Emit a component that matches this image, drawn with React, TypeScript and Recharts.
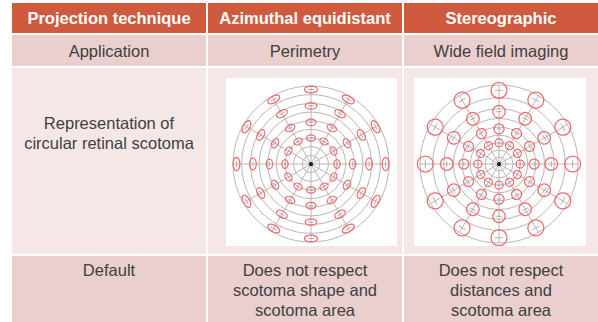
import {
  PolarAngleAxis,
  PolarGrid,
  PolarRadiusAxis,
  Radar,
  RadarChart,
} from "recharts";

// meridians every 30°, scotomas on four eccentricity rings, grid every 10°
const meridians = ["0°", "30°", "60°", "90°", "120°", "150°", "180°", "210°", "240°", "270°", "300°", "330°"];
const scotomaEccentricities = [30, 48, 67, 86];
const gridEccentricities = [10, 20, 30, 40, 50, 60, 70, 80, 90];
const foveaEccentricity = 0;

const headers = ["Projection technique", "Azimuthal equidistant", "Stereographic"];
const applicationRow = ["Application", "Perimetry", "Wide field imaging"];
const representationLabel = ["Representation of", "circular retinal scotoma"];
const defaultRow = [
  ["Default"],
  ["Does not respect", "scotoma shape and", "scotoma area"],
  ["Does not respect", "distances and", "scotoma area"],
];

// drawn scotoma size per ring: [radial, tangential] half-axes in px
const azimuthalShape = [
  [3.1, 4.4],
  [3.2, 5.0],
  [3.3, 5.8],
  [3.4, 6.6],
];
const stereoShape = [
  [4, 4],
  [5, 5],
  [6.3, 6.3],
  [8, 8],
];

const equidistant = (deg: number) => deg;
const stereographic = (deg: number) => Math.tan((deg * Math.PI) / 360);

const PANEL_W = 171;
const PANEL_H = 168;
const CX = 85;
const CY = 86;

const RED = "#f26a6a";
const GRID = "#b6b6b6";

function Scotoma({ cx, cy, rx, ry }: { cx: number; cy: number; rx: number; ry: number }) {
  const angle = (Math.atan2(-(cy - CY), cx - CX) * 180) / Math.PI;
  return (
    <g transform={`rotate(${-angle} ${cx} ${cy})`}>
      <line
        x1={cx}
        y1={cy - ry * 0.5}
        x2={cx}
        y2={cy + ry * 0.5}
        stroke="#a0a0a0"
        strokeWidth={0.8}
      />
      <ellipse cx={cx} cy={cy} rx={rx} ry={ry} fill="none" stroke={RED} strokeWidth={1.25} />
    </g>
  );
}

function ScotomaPlot({
  project,
  outerRadius,
  shape,
}: {
  project: (deg: number) => number;
  outerRadius: number;
  shape: number[][];
}) {
  const maxR = project(90);
  const data = meridians.map((m) => {
    const row: Record<string, string | number> = { meridian: m, fovea: project(foveaEccentricity) };
    scotomaEccentricities.forEach((e, i) => {
      row[`ring${i}`] = project(e);
    });
    return row;
  });
  const rings = gridEccentricities.map((e) => (project(e) / maxR) * outerRadius);

  return (
    <RadarChart
      width={PANEL_W}
      height={PANEL_H}
      data={data}
      cx={CX}
      cy={CY}
      outerRadius={outerRadius}
      margin={{ top: 0, right: 0, bottom: 0, left: 0 }}
    >
      <PolarGrid gridType="circle" polarRadius={rings} stroke={GRID} strokeWidth={1} />
      <PolarAngleAxis dataKey="meridian" tick={false} axisLine={false} tickLine={false} />
      <PolarRadiusAxis type="number" domain={[0, maxR]} tick={false} axisLine={false} tickLine={false} />
      {scotomaEccentricities.map((e, i) => (
        <Radar
          key={e}
          dataKey={`ring${i}`}
          stroke="none"
          fill="none"
          fillOpacity={0}
          isAnimationActive={false}
          dot={(p: any) => (
            <Scotoma key={p.key} cx={p.cx} cy={p.cy} rx={shape[i][0]} ry={shape[i][1]} />
          )}
        />
      ))}
      <Radar
        dataKey="fovea"
        stroke="none"
        fill="none"
        fillOpacity={0}
        isAnimationActive={false}
        dot={(p: any) => <circle key={p.key} cx={p.cx} cy={p.cy} r={1.6} fill="#222" />}
      />
    </RadarChart>
  );
}

const HEADER_BG = "#d05a3d";
const ROW_DARK = "#eacfce";
const ROW_LIGHT = "#f6e7e7";
const TEXT = "#404040";

const cell = (bg: string): React.CSSProperties => ({
  background: bg,
  color: TEXT,
  textAlign: "center",
  fontSize: 16.5,
  lineHeight: "20px",
  position: "relative",
});

export default function App() {
  return (
    <div
      style={{
        position: "absolute",
        left: 0,
        top: 0,
        width: 598,
        height: 322,
        overflow: "hidden",
        background: "#fff",
        fontFamily: '"Liberation Sans", Arial, sans-serif',
      }}
    >
      <div
        style={{
          position: "absolute",
          left: 12,
          top: 3,
          display: "grid",
          gridTemplateColumns: "194px 194px 194px",
          gridTemplateRows: "30px 31px 186px 70px",
          columnGap: 2,
          rowGap: 2,
        }}
      >
        {headers.map((h) => (
          <div
            key={h}
            style={{
              background: HEADER_BG,
              color: "#fff",
              fontWeight: 700,
              fontSize: 16.5,
              display: "flex",
              alignItems: "center",
              justifyContent: "center",
              paddingTop: 1,
            }}
          >
            {h}
          </div>
        ))}

        {applicationRow.map((t) => (
          <div
            key={t}
            style={{ ...cell(ROW_DARK), display: "flex", alignItems: "center", justifyContent: "center" }}
          >
            {t}
          </div>
        ))}

        <div style={{ ...cell(ROW_LIGHT), paddingTop: 45 }}>
          {representationLabel.map((l) => (
            <div key={l}>{l}</div>
          ))}
        </div>
        <div style={cell(ROW_LIGHT)}>
          <div style={{ position: "absolute", left: 18, top: 10, background: "#fff", width: PANEL_W, height: PANEL_H }}>
            <ScotomaPlot project={equidistant} outerRadius={78} shape={azimuthalShape} />
          </div>
        </div>
        <div style={cell(ROW_LIGHT)}>
          <div style={{ position: "absolute", left: 10, top: 10, background: "#fff", width: 172, height: PANEL_H }}>
            <ScotomaPlot project={stereographic} outerRadius={79} shape={stereoShape} />
          </div>
        </div>

        {defaultRow.map((lines, i) => (
          <div key={i} style={{ ...cell(ROW_DARK), paddingTop: 4 }}>
            {lines.map((l) => (
              <div key={l}>{l}</div>
            ))}
          </div>
        ))}
      </div>
    </div>
  );
}
